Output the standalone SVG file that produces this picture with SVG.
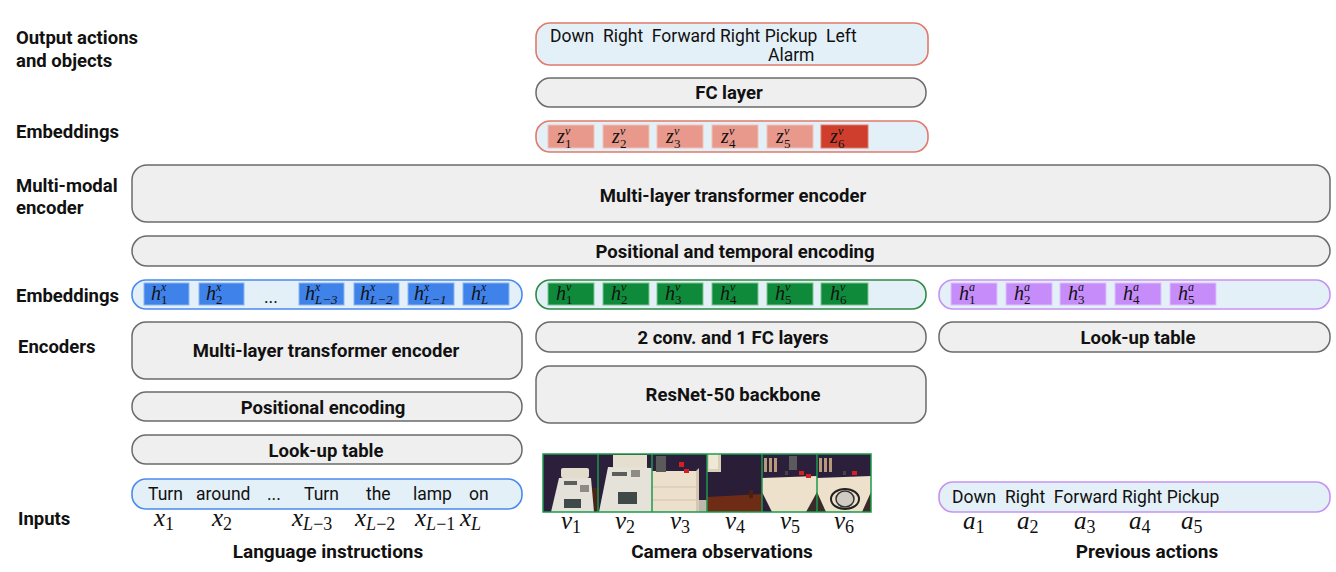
<svg xmlns="http://www.w3.org/2000/svg" width="1336" height="572" viewBox="0 0 1336 572">
<defs>
<style>
.lbl{font-family:Roboto,"Liberation Sans",sans-serif;font-weight:700;font-size:18.5px;fill:#111}
.bl{font-family:Roboto,"Liberation Sans",sans-serif;font-weight:700;font-size:18.5px;fill:#111;text-anchor:middle}
.tt{font-family:Roboto,"Liberation Sans",sans-serif;font-weight:700;font-size:19px;fill:#111;text-anchor:middle}
.tx{font-family:Roboto,"Liberation Sans",sans-serif;font-size:17.5px;fill:#111}
.gbox{fill:#efefef;stroke:#6b6b6b;stroke-width:1.5}
.m{font-family:"Liberation Serif","DejaVu Serif",serif;font-style:italic;font-size:25px;fill:#111}
.sub{font-family:"Liberation Serif","DejaVu Serif",serif;font-style:normal;font-size:18px}
.subi{font-family:"Liberation Serif","DejaVu Serif",serif;font-style:italic;font-size:18px}
.cz{fill:#e8998c;stroke:#f2c2b8;stroke-width:1}
.cx{fill:#3f83ea;stroke:#8ab4f4;stroke-width:1}
.cv{fill:#0f8a3a;stroke:#7cc490;stroke-width:1}
.ca{fill:#c68cf9;stroke:#dfc0fb;stroke-width:1}
.hm{font-family:"Liberation Serif","DejaVu Serif",serif;font-style:italic;font-size:20px;fill:#111}
.hs{font-family:"Liberation Serif","DejaVu Serif",serif;font-size:13px;fill:#111}
.hsi{font-family:"Liberation Serif","DejaVu Serif",serif;font-style:italic;font-size:12px;fill:#111}
.hsl{font-family:"Liberation Serif","DejaVu Serif",serif;font-style:italic;font-size:13px;fill:#111}
.gl{stroke:#1c9a4a;stroke-width:1.5}
</style>
</defs>

<g id="row-labels">
<text class="lbl" x="16" y="44">Output actions</text>
<text class="lbl" x="16" y="67">and objects</text>
<text class="lbl" x="16" y="138">Embeddings</text>
<text class="lbl" x="16" y="192">Multi-modal</text>
<text class="lbl" x="16" y="214">encoder</text>
<text class="lbl" x="16" y="302">Embeddings</text>
<text class="lbl" x="18" y="353">Encoders</text>
<text class="lbl" x="18" y="525">Inputs</text>
</g>

<g id="output-actions">
<rect x="536" y="23" width="392" height="42" rx="14" fill="#e4f0f7" stroke="#e07a6c" stroke-width="1.6"/>
<text class="tx" x="550" y="42" xml:space="preserve">Down  Right  Forward Right Pickup  Left</text>
<text class="tx" x="768" y="61">Alarm</text>
</g>

<g id="fc-layer">
<rect class="gbox" x="536" y="78" width="390" height="29" rx="14"/>
<text class="bl" x="729" y="99">FC layer</text>
</g>

<g id="z-embeddings">
<rect x="536" y="121" width="392" height="31" rx="14" fill="#e4f0f7" stroke="#e07a6c" stroke-width="1.6"/>
<rect class="cz" x="548" y="125" width="46" height="23"/>
<rect class="cz" x="603" y="125" width="46" height="23"/>
<rect class="cz" x="657" y="125" width="46" height="23"/>
<rect class="cz" x="712" y="125" width="46" height="23"/>
<rect class="cz" x="767" y="125" width="46" height="23"/>
<rect x="821" y="125" width="47" height="23" fill="#cf3e2c" stroke="#e07a6c"/>
<text class="hm" x="557" y="143">z</text><text class="hsi" x="565" y="135">v</text><text class="hs" x="565" y="148">1</text>
<text class="hm" x="612" y="143">z</text><text class="hsi" x="620" y="135">v</text><text class="hs" x="620" y="148">2</text>
<text class="hm" x="666" y="143">z</text><text class="hsi" x="674" y="135">v</text><text class="hs" x="674" y="148">3</text>
<text class="hm" x="721" y="143">z</text><text class="hsi" x="729" y="135">v</text><text class="hs" x="729" y="148">4</text>
<text class="hm" x="776" y="143">z</text><text class="hsi" x="784" y="135">v</text><text class="hs" x="784" y="148">5</text>
<text class="hm" x="830" y="143">z</text><text class="hsi" x="838" y="135">v</text><text class="hs" x="838" y="148">6</text>
</g>

<g id="multimodal-encoder">
<rect class="gbox" x="132" y="165" width="1198" height="57" rx="15"/>
<text class="bl" x="733" y="202">Multi-layer transformer encoder</text>
</g>

<g id="positional-temporal">
<rect class="gbox" x="132" y="236" width="1198" height="30" rx="15"/>
<text class="bl" x="735" y="258">Positional and temporal encoding</text>
</g>

<g id="lang-embeddings">
<rect x="132" y="280" width="390" height="29" rx="14" fill="#e4f0f7" stroke="#4a8af0" stroke-width="1.6"/>
<rect class="cx" x="144" y="283" width="45" height="22"/>
<rect class="cx" x="199" y="283" width="45" height="22"/>
<rect class="cx" x="299" y="283" width="45" height="22"/>
<rect class="cx" x="354" y="283" width="45" height="22"/>
<rect class="cx" x="408" y="283" width="46" height="22"/>
<rect class="cx" x="463" y="283" width="46" height="22"/>
<text class="tx" x="264" y="303">...</text>
<text class="hm" x="151" y="300">h</text><text class="hsi" x="161" y="291">x</text><text class="hs" x="161" y="304">1</text>
<text class="hm" x="206" y="300">h</text><text class="hsi" x="216" y="291">x</text><text class="hs" x="216" y="304">2</text>
<text class="hm" x="305" y="300">h</text><text class="hsi" x="315" y="291">x</text><text class="hsl" x="315" y="304">L<tspan class="hs">−3</tspan></text>
<text class="hm" x="360" y="300">h</text><text class="hsi" x="370" y="291">x</text><text class="hsl" x="370" y="304">L<tspan class="hs">−2</tspan></text>
<text class="hm" x="414" y="300">h</text><text class="hsi" x="424" y="291">x</text><text class="hsl" x="424" y="304">L<tspan class="hs">−1</tspan></text>
<text class="hm" x="471" y="300">h</text><text class="hsi" x="481" y="291">x</text><text class="hsl" x="481" y="304">L</text>
</g>

<g id="vis-embeddings">
<rect x="536" y="280" width="390" height="29" rx="14" fill="#e4f0f7" stroke="#2e8b45" stroke-width="1.6"/>
<rect class="cv" x="548" y="283" width="46" height="22"/>
<rect class="cv" x="603" y="283" width="46" height="22"/>
<rect class="cv" x="657" y="283" width="46" height="22"/>
<rect class="cv" x="712" y="283" width="46" height="22"/>
<rect class="cv" x="767" y="283" width="46" height="22"/>
<rect class="cv" x="821" y="283" width="47" height="22"/>
<text class="hm" x="556" y="300">h</text><text class="hsi" x="566" y="291">v</text><text class="hs" x="566" y="304">1</text>
<text class="hm" x="611" y="300">h</text><text class="hsi" x="621" y="291">v</text><text class="hs" x="621" y="304">2</text>
<text class="hm" x="665" y="300">h</text><text class="hsi" x="675" y="291">v</text><text class="hs" x="675" y="304">3</text>
<text class="hm" x="720" y="300">h</text><text class="hsi" x="730" y="291">v</text><text class="hs" x="730" y="304">4</text>
<text class="hm" x="775" y="300">h</text><text class="hsi" x="785" y="291">v</text><text class="hs" x="785" y="304">5</text>
<text class="hm" x="830" y="300">h</text><text class="hsi" x="840" y="291">v</text><text class="hs" x="840" y="304">6</text>
</g>

<g id="act-embeddings">
<rect x="939" y="280" width="391" height="29" rx="14" fill="#e4f0f7" stroke="#c592f2" stroke-width="1.6"/>
<rect class="ca" x="951" y="283" width="46" height="22"/>
<rect class="ca" x="1006" y="283" width="46" height="22"/>
<rect class="ca" x="1060" y="283" width="46" height="22"/>
<rect class="ca" x="1115" y="283" width="46" height="22"/>
<rect class="ca" x="1170" y="283" width="46" height="22"/>
<text class="hm" x="959" y="300">h</text><text class="hsi" x="969" y="291">a</text><text class="hs" x="969" y="304">1</text>
<text class="hm" x="1014" y="300">h</text><text class="hsi" x="1024" y="291">a</text><text class="hs" x="1024" y="304">2</text>
<text class="hm" x="1068" y="300">h</text><text class="hsi" x="1078" y="291">a</text><text class="hs" x="1078" y="304">3</text>
<text class="hm" x="1123" y="300">h</text><text class="hsi" x="1133" y="291">a</text><text class="hs" x="1133" y="304">4</text>
<text class="hm" x="1178" y="300">h</text><text class="hsi" x="1188" y="291">a</text><text class="hs" x="1188" y="304">5</text>
</g>

<g id="lang-transformer">
<rect class="gbox" x="132" y="322" width="390" height="57" rx="14"/>
<text class="bl" x="326" y="357">Multi-layer transformer encoder</text>
</g>
<g id="lang-positional">
<rect class="gbox" x="132" y="392" width="390" height="29" rx="14"/>
<text class="bl" x="323" y="414">Positional encoding</text>
</g>
<g id="lang-lookup">
<rect class="gbox" x="132" y="435" width="390" height="29" rx="14"/>
<text class="bl" x="326" y="457">Look-up table</text>
</g>
<g id="vis-conv">
<rect class="gbox" x="536" y="322" width="390" height="30" rx="14"/>
<text class="bl" x="733" y="344">2 conv. and 1 FC layers</text>
</g>
<g id="vis-resnet">
<rect class="gbox" x="536" y="366" width="390" height="57" rx="14"/>
<text class="bl" x="733" y="401">ResNet-50 backbone</text>
</g>
<g id="act-lookup">
<rect class="gbox" x="939" y="322" width="391" height="30" rx="14"/>
<text class="bl" x="1138" y="344">Look-up table</text>
</g>

<g id="lang-input">
<rect x="132" y="479" width="390" height="30" rx="14" fill="#e4f0f7" stroke="#4a8af0" stroke-width="1.6"/>
<text class="tx" x="148" y="500">Turn</text>
<text class="tx" x="196" y="500">around</text>
<text class="tx" x="267" y="500">...</text>
<text class="tx" x="304" y="500">Turn</text>
<text class="tx" x="366" y="500">the</text>
<text class="tx" x="413" y="500">lamp</text>
<text class="tx" x="469" y="500">on</text>
<text class="m" x="154" y="526">x<tspan class="sub" dy="4">1</tspan></text>
<text class="m" x="212" y="526">x<tspan class="sub" dy="4">2</tspan></text>
<text class="m" x="292" y="526">x<tspan class="subi" dy="4">L</tspan><tspan class="sub">−3</tspan></text>
<text class="m" x="355" y="526">x<tspan class="subi" dy="4">L</tspan><tspan class="sub">−2</tspan></text>
<text class="m" x="415" y="526">x<tspan class="subi" dy="4">L</tspan><tspan class="sub">−1</tspan></text>
<text class="m" x="460" y="526">x<tspan class="subi" dy="4">L</tspan></text>
<text class="tt" x="328" y="558">Language instructions</text>
</g>

<g id="camera-input">
<!-- image 1 -->
<rect x="543" y="454" width="55" height="58" fill="#2c1f3c"/>
<rect x="591" y="488" width="7" height="24" fill="#4a2418"/>
<rect x="561" y="468" width="28" height="10" rx="2" fill="#e2dccd"/>
<polygon points="551,512 594,512 591,478 559,478" fill="#e3e1da"/>
<rect x="564" y="481" width="13" height="4" fill="#5a5f5c"/>
<rect x="580" y="485" width="9" height="7" fill="#908a84"/>
<rect x="564" y="499" width="17" height="9" fill="#3f4a48"/>
<!-- image 2 -->
<rect x="598" y="454" width="54" height="58" fill="#2c1f3c"/>
<rect x="613" y="455" width="34" height="13" fill="#e6dfd0"/>
<polygon points="599,512 652,512 652,468 608,467" fill="#e5e2da"/>
<rect x="612" y="472" width="15" height="4" fill="#5a5f5c"/>
<rect x="631" y="470" width="9" height="7" fill="#908a84"/>
<rect x="618" y="492" width="19" height="12" fill="#3f4a48"/>
<!-- image 3 -->
<rect x="652" y="454" width="55" height="58" fill="#2c1f3c"/>
<rect x="652" y="471" width="44" height="41" fill="#ece0cc"/>
<polygon points="696,471 699,468 699,512 696,512" fill="#d6c8b0"/>
<line x1="652" y1="487" x2="696" y2="487" stroke="#cdbfa6" stroke-width="0.8"/>
<line x1="652" y1="500" x2="696" y2="500" stroke="#cdbfa6" stroke-width="0.8"/>
<rect x="656" y="456" width="10" height="16" fill="#5a5a5a"/>
<rect x="679" y="462" width="5" height="5" fill="#d42020"/>
<rect x="684" y="469" width="5" height="4" fill="#d42020"/>
<rect x="699" y="500" width="8" height="12" fill="#bdb7ad"/>
<!-- image 4 -->
<rect x="707" y="454" width="55" height="58" fill="#2a1d38"/>
<rect x="707" y="454" width="14" height="18" fill="#d8d0b8"/>
<rect x="709" y="454" width="9" height="15" fill="#efe8d6"/>
<polygon points="707,497 762,494 762,512 707,512" fill="#6e2c16"/>
<rect x="749" y="490" width="4" height="8" fill="#4a2212"/>
<!-- image 5 -->
<rect x="762" y="454" width="55" height="58" fill="#2c1f3c"/>
<polygon points="762,478 817,476 817,512 762,512" fill="#ede1cc"/>
<polygon points="762,492 772,512 762,512" fill="#2c1f3c"/>
<polygon points="817,492 806,512 817,512" fill="#3a2a2a"/>
<rect x="764" y="458" width="3" height="14" fill="#b69a7a"/>
<rect x="769" y="458" width="3" height="14" fill="#b69a7a"/>
<rect x="774" y="458" width="3" height="14" fill="#b69a7a"/>
<rect x="789" y="456" width="8" height="14" fill="#5a5a5a"/>
<rect x="799" y="471" width="5" height="4" fill="#d42020"/>
<rect x="806" y="474" width="5" height="4" fill="#d42020"/>
<rect x="785" y="471" width="3" height="4" fill="#444"/>
<!-- image 6 -->
<rect x="817" y="454" width="54" height="58" fill="#2c1f3c"/>
<polygon points="817,478 871,476 871,512 817,512" fill="#ede1cc"/>
<polygon points="817,492 826,512 817,512" fill="#3a2a2a"/>
<polygon points="871,492 862,512 871,512" fill="#3a2a2a"/>
<rect x="819" y="458" width="3" height="14" fill="#b69a7a"/>
<rect x="824" y="458" width="3" height="14" fill="#b69a7a"/>
<rect x="829" y="458" width="3" height="14" fill="#b69a7a"/>
<rect x="843" y="471" width="3" height="4" fill="#444"/>
<rect x="852" y="471" width="5" height="4" fill="#d42020"/>
<ellipse cx="845" cy="499" rx="14" ry="10" fill="none" stroke="#222" stroke-width="2"/>
<ellipse cx="845" cy="499" rx="9" ry="8" fill="#d0ccc4" stroke="#333" stroke-width="1.5"/>
<rect x="543" y="454" width="328" height="58" fill="none" class="gl"/>
<line class="gl" x1="598" y1="454" x2="598" y2="512"/>
<line class="gl" x1="652" y1="454" x2="652" y2="512"/>
<line class="gl" x1="707" y1="454" x2="707" y2="512"/>
<line class="gl" x1="762" y1="454" x2="762" y2="512"/>
<line class="gl" x1="817" y1="454" x2="817" y2="512"/>
<text class="m" x="561" y="529">v<tspan class="sub" dy="4">1</tspan></text>
<text class="m" x="615" y="529">v<tspan class="sub" dy="4">2</tspan></text>
<text class="m" x="670" y="529">v<tspan class="sub" dy="4">3</tspan></text>
<text class="m" x="725" y="529">v<tspan class="sub" dy="4">4</tspan></text>
<text class="m" x="780" y="529">v<tspan class="sub" dy="4">5</tspan></text>
<text class="m" x="834" y="529">v<tspan class="sub" dy="4">6</tspan></text>
<text class="tt" x="722" y="558">Camera observations</text>
</g>

<g id="action-input">
<rect x="939" y="482" width="391" height="30" rx="14" fill="#e4f0f7" stroke="#c592f2" stroke-width="1.6"/>
<text class="tx" x="952" y="503" xml:space="preserve">Down  Right  Forward Right Pickup</text>
<text class="m" x="963" y="529">a<tspan class="sub" dy="4">1</tspan></text>
<text class="m" x="1017" y="529">a<tspan class="sub" dy="4">2</tspan></text>
<text class="m" x="1074" y="529">a<tspan class="sub" dy="4">3</tspan></text>
<text class="m" x="1129" y="529">a<tspan class="sub" dy="4">4</tspan></text>
<text class="m" x="1181" y="529">a<tspan class="sub" dy="4">5</tspan></text>
<text class="tt" x="1147" y="558">Previous actions</text>
</g>

<g id="connectors"></g>
</svg>
